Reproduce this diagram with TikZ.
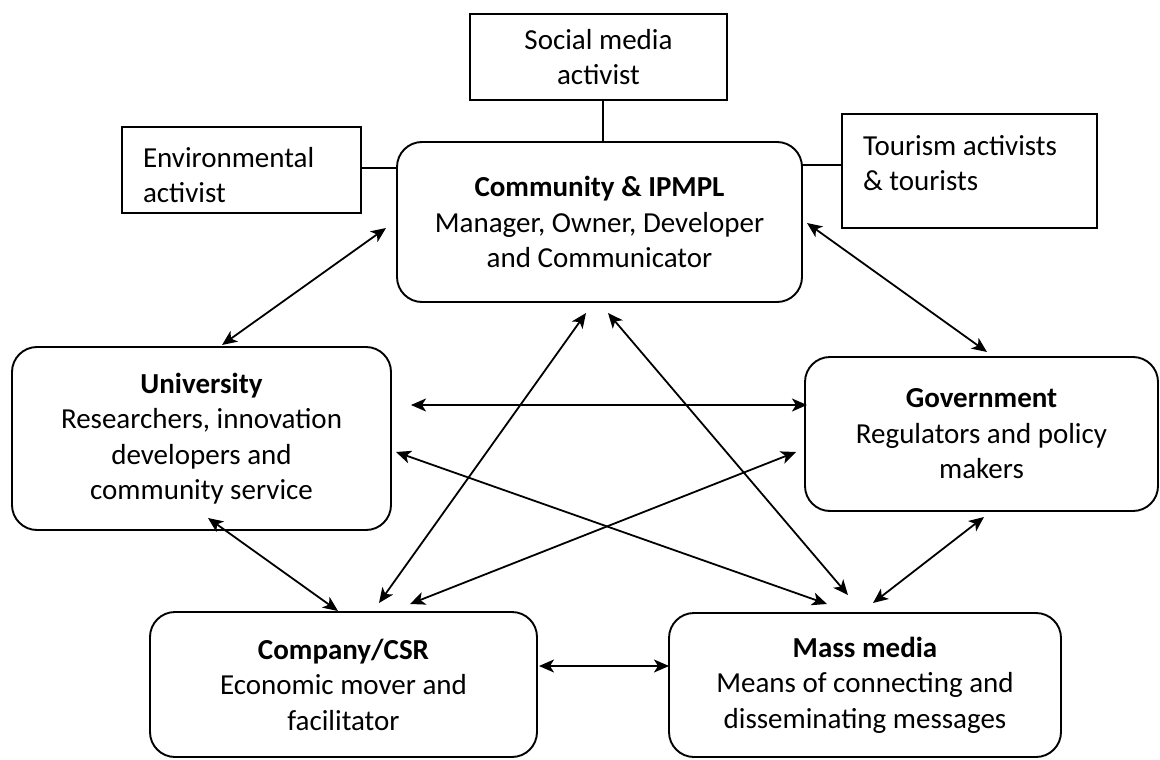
\documentclass[tikz,border=0pt]{standalone}
\usepackage{fontspec}
\setmainfont{Carlito}
\usetikzlibrary{arrows.meta,calc}
\begin{document}
\begin{tikzpicture}[x=1pt,y=-1pt,
  every node/.style={font=\fontsize{29}{35.5}\selectfont, outer sep=0pt},
  roundbox/.style={draw, line width=1.9pt, rounded corners=25pt, align=center, inner sep=0pt},
  rectbox/.style={draw, line width=1.9pt, inner sep=0pt},
  plaintext/.style={align=left, inner sep=0pt},
  link/.style={line width=1.9pt},
  biarrow/.style={line width=1.8pt, {Stealth[length=15pt,width=13pt,inset=4pt]}-{Stealth[length=15pt,width=13pt,inset=4pt]}}
]
\useasboundingbox (0,0) rectangle (1160,760);

% main actors
\node[roundbox, minimum width=405pt, minimum height=160pt] (comm) at (599.5,222)
  {\textbf{Community \& IPMPL}\\Manager, Owner, Developer\\and Communicator};
\node[roundbox, minimum width=379pt, minimum height=183pt] (univ) at (201.5,438.5)
  {\textbf{University}\\Researchers, innovation\\developers and\\community service};
\node[roundbox, minimum width=353pt, minimum height=154pt] (gov) at (981.5,434)
  {\textbf{Government}\\Regulators and policy\\makers};
\node[roundbox, minimum width=387pt, minimum height=145pt] (comp) at (343.5,684.5)
  {\textbf{Company/CSR}\\Economic mover and\\facilitator};
\node[roundbox, minimum width=392pt, minimum height=144pt] (mass) at (865,685)
  {\textbf{Mass media}\\Means of connecting and\\disseminating messages};

% activists
\node[rectbox, align=center, minimum width=257pt, minimum height=86pt] (social) at (598.5,57)
  {Social media\\activist};
\node[rectbox, minimum width=239pt, minimum height=86pt] (env) at (241.5,170) {};
\node[plaintext, anchor=west] (envtext) at (143,175) {Environmental\\activist};
\node[rectbox, minimum width=255pt, minimum height=114pt] (tour) at (969.5,171) {};
\node[plaintext, anchor=west] (tourtext) at (863,163) {Tourism activists\\\& tourists};

% plain links
\draw[link] ($(social.south)+(4.5,0)$) -- ($(comm.north)+(3.5,0)$);
\draw[link] ($(env.east)+(0,-2)$) -- ($(comm.west)+(0,-54)$);
\draw[link] ($(comm.east)+(0,-57)$) -- ($(tour.west)+(0,-6)$);

% two-way arrows
\draw[biarrow] ($(comm.west)+(-11,6)$) -- ($(univ.north)+(20.5,-2)$);
\draw[biarrow] ($(comm.east)+(5,1)$) -- ($(gov.north)+(5.5,-5)$);
\draw[biarrow] ($(comm.south)+(-13.5,11)$) -- ($(comp.north)+(35.5,-9)$);
\draw[biarrow] ($(comm.south)+(8.5,11)$) -- ($(mass.north)+(-17,-18)$);
\draw[biarrow] ($(univ.east)+(20,-33.5)$) -- ($(gov.west)+(2,-29)$);
\draw[biarrow] ($(univ.east)+(5,13.5)$) -- ($(mass.north)+(-38,-9)$);
\draw[biarrow] ($(comp.north)+(66.5,-8)$) -- ($(gov.west)+(-9,18)$);
\draw[biarrow] ($(univ.south)+(6.5,-12)$) -- ($(comp.north)+(-5.5,-1)$);
\draw[biarrow] ($(comp.east)+(2,-18.5)$) -- ($(mass.west)+(0,-19)$);
\draw[biarrow] ($(gov.south)+(2.5,6)$) -- ($(mass.north)+(8,-10)$);
\end{tikzpicture}
\end{document}
